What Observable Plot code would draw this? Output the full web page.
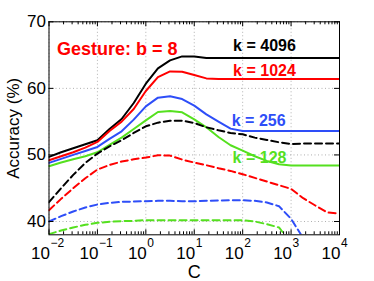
<!DOCTYPE html>
<html><head><meta charset="utf-8">
<script src="https://cdn.jsdelivr.net/npm/d3@7"></script>
<script src="https://cdn.jsdelivr.net/npm/@observablehq/plot@0.6"></script>
<style>body{margin:0;background:#fff}#chart svg{display:block}</style>
</head><body><div id="chart"></div>
<script>
// log10(C) sample positions
const exps = [-2,-1.75,-1.5,-1.25,-1,-0.75,-0.5,-0.25,0,0.25,0.5,0.75,1,1.25,1.5,1.75,2,2.25,2.5,2.75,3,3.25,3.5,3.75,4];

// solid lines (k = 4096, 1024, 256, 128)
const k4096 = [49.7,50.4,51.0,51.6,52.2,53.9,55.4,57.8,60.7,63.0,64.2,64.8,64.8,64.55,64.55,64.55,64.55,64.55,64.55,64.55,64.55,64.55,64.55,64.55,64.55];
const k1024 = [49.2,49.8,50.4,51.1,51.95,53.6,55.0,56.9,59.6,61.7,62.55,62.5,62.0,61.5,61.4,61.4,61.4,61.4,61.4,61.4,61.4,61.4,61.4,61.4,61.4];
const k256  = [48.8,49.4,50.0,50.6,51.2,52.4,53.55,55.3,57.3,58.6,58.8,58.4,57.4,56.1,55.0,53.95,53.6,53.6,53.6,53.6,53.6,53.6,53.6,53.6,53.6];
const k128  = [48.3,48.85,49.35,49.8,50.4,51.5,52.6,53.9,55.2,56.45,56.6,56.4,55.35,54.15,52.7,51.45,50.65,49.8,49.1,48.6,48.4,48.4,48.4,48.4,48.4];

// dashed lines (same colours)
const d4096 = [42.9,45.0,47.0,48.8,50.2,51.3,52.2,53.3,54.3,54.85,55.15,55.15,54.8,54.15,53.7,53.3,53.1,52.6,52.25,51.9,51.65,51.7,51.7,51.7,51.7];
const d1024 = [41.7,43.4,45.0,46.5,47.8,48.5,49.0,49.35,49.6,49.95,49.9,49.3,48.85,48.45,48.0,47.6,47.1,46.55,46.0,45.45,44.9,43.5,42.4,41.35,41.2];
const d256  = [40.0,40.8,41.5,42.1,42.55,42.8,42.95,43.0,43.05,43.1,43.1,43.05,43.05,43.1,43.15,43.2,43.2,43.1,42.85,42.3,40.4,37.5,null,null,null];
const d128  = [38.1,38.65,39.1,39.5,39.8,39.95,40.05,40.1,40.2,40.2,40.2,40.2,40.2,40.2,40.2,40.2,40.2,40.0,39.6,39.1,36.8,null,null,null,null];

const colors = {k4096:"#000000", k1024:"#ff0000", k256:"#2e4ef8", k128:"#55e01f"};
const series = [
  {key:"k4096", values:k4096, dash:null},
  {key:"k1024", values:k1024, dash:null},
  {key:"k256",  values:k256,  dash:null},
  {key:"k128",  values:k128,  dash:null},
  {key:"k4096", values:d4096, dash:"7,4"},
  {key:"k1024", values:d1024, dash:"7,4"},
  {key:"k256",  values:d256,  dash:"7,4"},
  {key:"k128",  values:d128,  dash:"7,4"}
];

// axis ticks / labels
const xMajor = [1e-2,1e-1,1e0,1e1,1e2,1e3,1e4];
const xExpLabels = ["\u22122","\u22121","0","1","2","3","4"];
const yTicks = [40,50,60,70];

// annotations
const labelText = ["k = 4096","k = 1024","k = 256","k = 128"];
const labelKey  = ["k4096","k1024","k256","k128"];
const labelC    = [282,282,214,223];
const labelV    = [65.6,61.8,54.3,48.8];
const title = "Gesture: b = 8";

const W = 374, H = 281, mL = 48.5, mR = 35, mT = 21.3, mB = 46.7;
const plotH = H - mT - mB, plotW = W - mL - mR;
const font = "Liberation Sans, Arial, Helvetica, sans-serif";

const xMinor = [];
for (let k = -2; k < 4; k++) for (let m = 2; m < 10; m++) xMinor.push(m * 10 ** k);

const marks = [];
// grid
marks.push(Plot.ruleX(xMajor, {x: d => d, stroke: "#b0b0b0", strokeDasharray: "1,2.5", strokeWidth: 1}));
marks.push(Plot.ruleY(yTicks, {y: d => d, stroke: "#b0b0b0", strokeDasharray: "1,2.5", strokeWidth: 1}));
// lines
for (const s of series) {
  const rows = [];
  s.values.forEach((v, i) => { if (v != null) rows.push({C: 10 ** exps[i], v}); });
  marks.push(Plot.line(rows, {x: "C", y: "v", stroke: colors[s.key], strokeWidth: 2,
    strokeDasharray: s.dash || undefined, clip: true}));
}
// frame & ticks
marks.push(Plot.frame({stroke: "#000", strokeWidth: 1}));
marks.push(Plot.tickX(xMinor, {x: d => d, insetTop: plotH - 3, stroke: "#000"}));
marks.push(Plot.tickX(xMinor, {x: d => d, insetBottom: plotH - 3, stroke: "#000"}));
marks.push(Plot.tickX(xMajor, {x: d => d, insetTop: plotH - 5, stroke: "#000"}));
marks.push(Plot.tickX(xMajor, {x: d => d, insetBottom: plotH - 5, stroke: "#000"}));
marks.push(Plot.tickY(yTicks, {y: d => d, insetRight: plotW - 5, stroke: "#000"}));
marks.push(Plot.tickY(yTicks, {y: d => d, insetLeft: plotW - 5, stroke: "#000"}));
// tick labels
marks.push(Plot.text(yTicks, {y: d => d, frameAnchor: "left", textAnchor: "end", lineAnchor: "middle", dx: -3, text: d => String(d), fontSize: 17, fill: "#000", fontFamily: font}));
marks.push(Plot.text(xMajor, {x: d => d, frameAnchor: "bottom", textAnchor: "end", lineAnchor: "bottom", dx: 1, dy: 24, text: () => "10", fontSize: 17, fill: "#000", fontFamily: font}));
marks.push(Plot.text(xMajor.map((d, i) => ({d, t: xExpLabels[i]})), {x: "d", frameAnchor: "bottom", textAnchor: "start", lineAnchor: "bottom", dx: 1.5, dy: 11.7, text: "t", fontSize: 12, fill: "#000", fontFamily: font}));
// axis titles
marks.push(Plot.text(["C"], {frameAnchor: "bottom", textAnchor: "middle", lineAnchor: "bottom", dy: 42.7, text: d => d, fontSize: 18, fill: "#000", fontFamily: font}));
marks.push(Plot.text(["Accuracy (%)"], {frameAnchor: "left", textAnchor: "middle", lineAnchor: "middle", dx: -35.5, rotate: -90, text: d => d, fontSize: 17, fill: "#000", fontFamily: font}));
// annotations
marks.push(Plot.text(labelText.map((t, i) => ({t, c: labelC[i], v: labelV[i], col: colors[labelKey[i]]})),
  {x: "c", y: "v", text: "t", fill: d => d.col, lineAnchor: "bottom", textAnchor: "middle", fontSize: 16, fontWeight: "bold", fontFamily: font}));
marks.push(Plot.text([title], {x: () => 0.0146, y: () => 64.95, text: d => d, fill: "#ff0000", textAnchor: "start", lineAnchor: "bottom", fontSize: 18, fontWeight: "bold", fontFamily: font}));

const chart = Plot.plot({
  width: W, height: H,
  marginLeft: mL, marginRight: mR, marginTop: mT, marginBottom: mB,
  style: {fontFamily: font, background: "#fff", overflow: "visible"},
  x: {type: "log", domain: [1e-2, 1e4], axis: null},
  y: {domain: [38, 70], axis: null},
  marks
});
document.getElementById("chart").appendChild(chart);
</script>
</body></html>
